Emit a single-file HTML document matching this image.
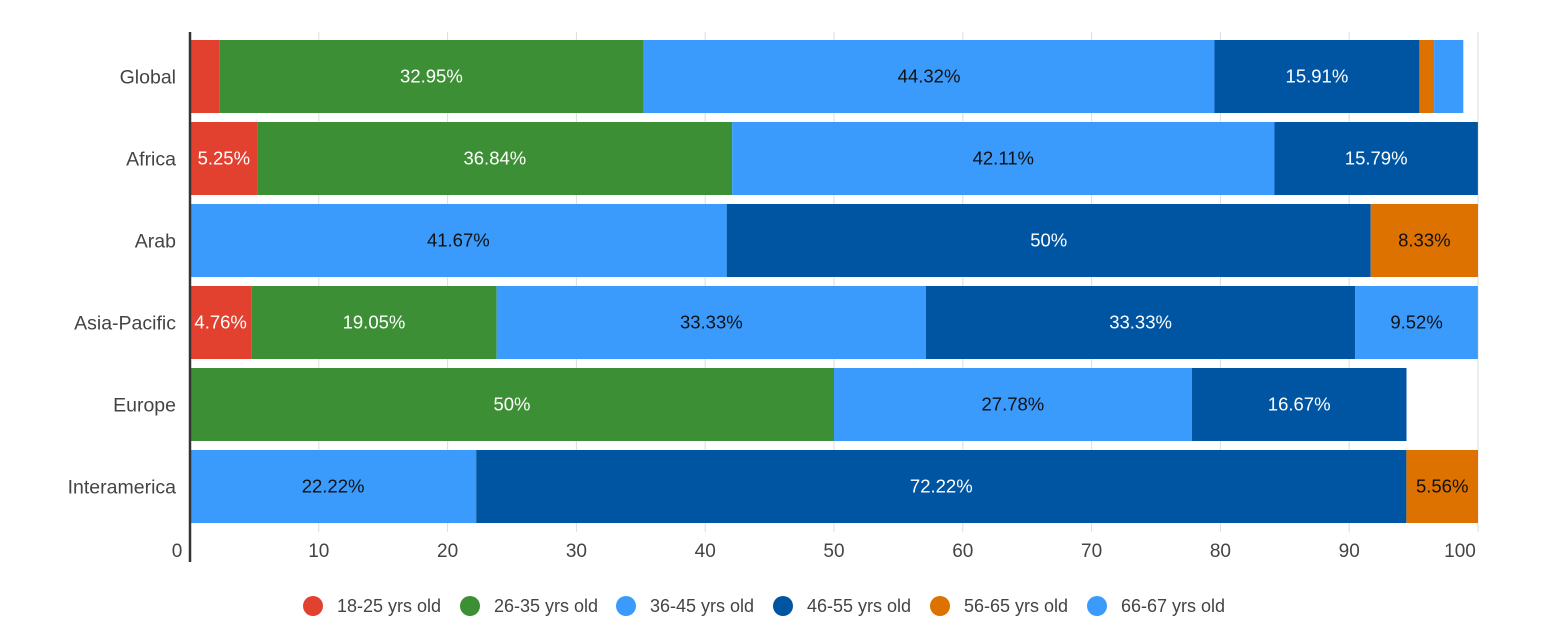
<!DOCTYPE html>
<html><head><meta charset="utf-8"><style>
body{margin:0;background:#fff;font-family:"Liberation Sans",sans-serif;}
svg text{font-family:"Liberation Sans",sans-serif;}
</style></head><body>
<svg id="chart" width="1568" height="637" xmlns="http://www.w3.org/2000/svg"></svg>
<script>
const categories=["Global","Africa","Arab","Asia-Pacific","Europe","Interamerica"];
const seriesNames=["18-25 yrs old","26-35 yrs old","36-45 yrs old","46-55 yrs old","56-65 yrs old","66-67 yrs old"];
const s18_25=[2.27,5.25,0,4.76,0,0];
const s26_35=[32.95,36.84,0,19.05,50,0];
const s36_45=[44.32,42.11,41.67,33.33,27.78,22.22];
const s46_55=[15.91,15.79,50,33.33,16.67,72.22];
const s56_65=[1.14,0,8.33,0,0,5.56];
const s66_67=[2.27,0,0,9.52,0,0];
const xTicks=[0,10,20,30,40,50,60,70,80,90,100];
const series=[s18_25,s26_35,s36_45,s46_55,s56_65,s66_67];
const colors=["#e3412f","#3d8f35","#3a9bfd","#0055a3","#dd7200","#3a9bfd"];
const textColors=["#fff","#fff","#111","#fff","#111","#111"];
const NS="http://www.w3.org/2000/svg";
const svg=document.getElementById('chart');
const x0=190,x1=1478,top0=40,pitch=82,bh=73;
const xs=v=>x0+(x1-x0)*v/100;
const ys=i=>top0+i*pitch;
function mk(t,a){const e=document.createElementNS(NS,t);for(const k in a)e.setAttribute(k,a[k]);svg.appendChild(e);return e;}
xTicks.forEach(t=>{
  const g=mk('line',{x1:xs(t),x2:xs(t),y1:32,y2:532,stroke:'#ddd','stroke-width':1});
  
  
  const tx=mk('text',{x:t===0?177:(t===100?xs(t)-18:xs(t)),y:557,'text-anchor':'middle','font-size':19,fill:'#444'});
  tx.textContent=t;
  
  
});
categories.forEach((c,i)=>{
  const l=mk('text',{x:176,y:ys(i)+bh/2+7,'text-anchor':'end','font-size':19.5,fill:'#444'});
  l.textContent=c;
  
  
  let acc=0;
  series.forEach((s,j)=>{
    const v=s[i];if(!v)return;
    const r=mk('rect',{x:xs(acc),y:ys(i),width:xs(acc+v)-xs(acc),height:bh,fill:colors[j]});
    
    
    if(v>=4){
      const t=mk('text',{x:(xs(acc)+xs(acc+v))/2,y:ys(i)+bh/2+6,'text-anchor':'middle','font-size':18.5,fill:textColors[j]});
      t.textContent=v+'%';
      
      
    }
    acc+=v;
  });
});
const ax=mk('line',{x1:190,x2:190,y1:32,y2:562,stroke:'#333','stroke-width':2.5});


const legX=[313,470,626,783,940,1097];
seriesNames.forEach((n,j)=>{
  const c=mk('circle',{cx:legX[j],cy:606,r:10,fill:colors[j]});
  
  
  const t=mk('text',{x:legX[j]+24,y:612,'font-size':18,fill:'#444'});
  t.textContent=n;
  
  
});
</script>
</body></html>
